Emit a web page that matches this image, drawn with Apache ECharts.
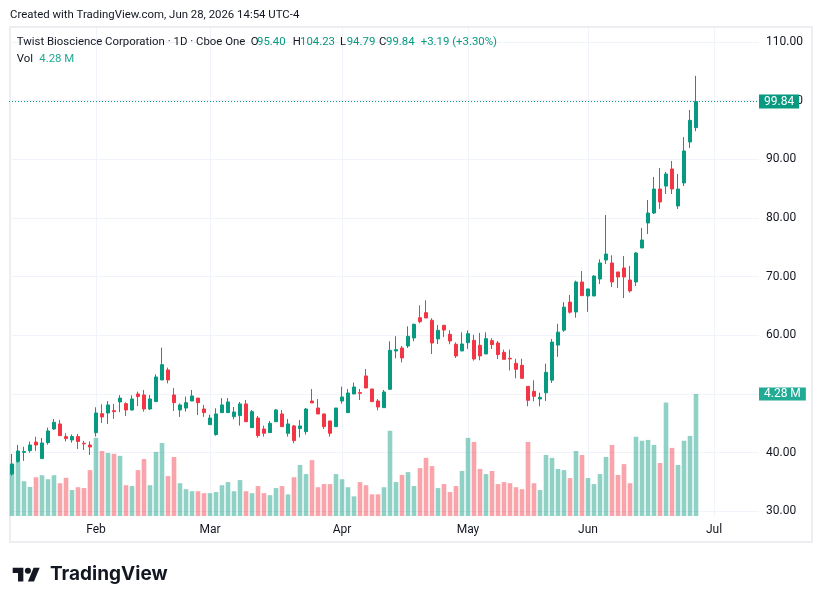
<!DOCTYPE html>
<html>
<head>
<meta charset="utf-8">
<title>Twist Bioscience Corporation · 1D</title>
<script src="https://cdn.jsdelivr.net/npm/echarts@6.0.0/dist/echarts.min.js"></script>
<style>
html, body { margin: 0; padding: 0; background: #fff; }
#container { width: 822px; height: 604px; }
</style>
</head>
<body>
<div id="container"></div>
<script>
// trading days shown on the chart (2026)
var janDays = [12,13,14,15,16,20,21,22,23,26,27,28,29,30];
var febDays = [2,3,4,5,6,9,10,11,12,13,17,18,19,20,23,24,25,26,27];
var marDays = [2,3,4,5,6,9,10,11,12,13,16,17,18,19,20,23,24,25,26,27,30,31];
var aprDays = [1,2,6,7,8,9,10,13,14,15,16,17,20,21,22,23,24,27,28,29,30];
var mayDays = [1,4,5,6,7,8,11,12,13,14,15,18,19,20,21,22,26,27,28,29];
var junDays = [1,2,3,4,5,8,9,10,11,12,15,16,17,18,22,23,24,25,26];
// empty slots on the right side of the pane
var padDates = ['2026-06-29','2026-06-30','2026-07-01','2026-07-02','2026-07-06',
                '2026-07-07','2026-07-08','2026-07-09','2026-07-10','2026-07-13'];
var monthNames = ['Jan','Feb','Mar','Apr','May','Jun','Jul','Aug','Sep','Oct','Nov','Dec'];

var open = [36.36,38.47,40.05,40.34,41.80,38.98,41.70,44.03,44.89,42.73,
42.16,42.73,41.60,41.30,43.41,46.65,46.76,47.16,48.64,48.35,
47.27,50.00,49.83,47.44,48.69,52.39,54.09,49.83,47.27,47.60,
48.80,49.30,47.44,44.77,43.07,46.82,46.82,46.14,46.31,48.30,
44.26,45.90,44.03,43.41,45.28,46.59,43.30,44.55,44.10,43.58,
48.80,47.61,46.59,45.40,44.43,48.80,46.82,50.00,50.23,53.07,
50.85,48.81,47.67,50.80,57.33,57.84,58.18,59.55,63.00,63.86,
62.56,59.38,61.70,60.17,58.47,57.33,58.75,59.15,58.30,56.82,
59.09,58.69,57.10,56.08,55.23,54.89,51.30,50.45,49.15,50.20,
52.36,58.33,60.88,65.66,63.98,69.09,66.70,66.70,69.60,72.84,
72.33,70.80,71.48,69.43,69.09,74.89,79.15,80.85,84.94,85.45,
88.35,82.05,85.97,92.95,95.40];
var close = [38.07,40.28,40.20,41.30,41.30,41.65,43.70,45.17,42.90,42.39,
42.73,41.90,41.50,40.97,46.76,46.08,48.13,46.99,49.30,47.27,
49.15,49.55,47.44,49.15,52.90,55.00,52.39,48.52,48.13,48.52,
49.66,48.52,46.82,45.90,46.59,48.13,48.64,46.93,48.30,45.28,
46.99,42.90,43.30,45.00,47.27,44.43,44.89,42.05,44.55,47.44,
48.47,46.59,44.43,43.30,47.61,49.49,50.17,51.19,50.11,51.02,
48.69,47.78,50.34,57.44,57.56,56.14,59.83,61.88,62.33,62.95,
58.69,60.85,60.90,59.03,56.48,58.52,60.28,55.97,56.48,59.43,
58.41,56.70,55.90,55.97,54.20,52.67,48.92,49.60,49.43,53.69,
58.84,60.54,64.80,63.95,69.09,66.76,67.90,70.11,72.33,73.86,
69.09,69.94,69.94,67.56,74.03,76.25,80.85,84.94,82.73,87.50,
84.94,84.94,91.42,96.65,99.84];
var low = [36.08,38.30,38.60,40.00,40.30,38.98,41.36,43.86,42.90,41.90,
41.70,40.60,40.45,39.60,42.73,45.06,44.90,45.74,46.90,46.25,
47.16,47.95,46.99,47.27,48.69,52.39,51.80,47.10,46.08,46.99,
48.80,46.42,46.10,44.77,42.90,46.82,46.82,45.68,44.60,45.28,
44.26,42.56,42.73,43.41,45.20,44.43,42.73,41.60,42.60,43.07,
48.47,46.59,44.03,42.73,44.43,48.35,46.82,50.00,48.98,51.02,
48.69,47.22,47.67,50.80,56.08,55.40,57.84,58.98,62.05,62.95,
56.82,58.52,59.70,58.47,56.14,57.33,57.67,55.68,55.74,56.82,
57.67,55.97,55.90,54.03,52.67,52.67,47.90,48.75,47.90,48.80,
51.88,56.33,60.60,63.70,63.01,66.76,64.00,66.70,68.75,72.16,
68.24,68.07,66.36,67.27,68.41,74.89,77.27,80.68,81.53,84.09,
84.09,81.53,85.45,91.93,94.79];
var high = [39.77,41.31,41.00,41.90,42.70,42.50,44.26,45.74,45.57,43.30,
43.10,43.20,42.00,41.90,47.73,48.24,48.80,48.30,49.80,48.58,
49.77,50.40,50.68,49.83,53.35,57.90,54.49,51.00,48.40,49.55,
50.68,49.30,48.13,46.48,47.56,49.30,49.30,47.78,48.64,48.98,
47.27,46.25,44.60,45.40,47.44,47.27,45.74,44.72,45.57,47.61,
50.85,49.15,46.70,45.40,47.61,51.25,50.85,51.93,50.85,54.26,
50.85,49.15,50.68,58.98,59.83,58.18,61.53,61.99,65.11,65.97,
62.90,61.76,61.80,60.85,58.80,60.51,60.85,60.11,60.40,60.51,
59.49,59.03,57.56,57.56,56.00,56.00,51.30,52.33,50.23,55.17,
59.38,61.96,65.66,66.88,69.32,70.97,67.95,70.23,72.95,80.51,
73.64,70.80,73.52,71.82,74.20,78.30,83.07,86.99,88.52,87.84,
89.72,87.50,93.80,98.41,104.23];
// volume in millions
var volume = [1.80,1.90,1.22,1.02,1.36,1.43,1.29,1.43,1.15,1.34,
0.91,1.01,0.98,1.61,2.74,2.28,2.21,2.18,2.11,1.08,
1.05,1.61,2.00,1.08,2.25,2.56,1.40,2.07,1.15,0.94,
0.87,0.87,0.80,0.80,0.84,1.08,1.19,0.87,1.26,0.87,
0.80,1.05,0.80,0.73,0.98,1.05,0.76,1.36,1.79,1.47,
1.96,1.01,1.12,1.12,1.47,1.29,1.01,0.69,1.19,1.08,
0.76,0.76,1.01,2.99,1.19,1.44,1.54,1.05,1.68,2.04,
1.75,0.98,1.12,0.84,1.05,1.58,2.74,2.60,1.65,1.47,
1.58,1.12,1.19,1.15,1.01,0.94,2.60,1.15,0.91,2.14,
2.04,1.65,1.61,1.33,2.28,2.14,1.33,1.12,1.47,2.07,
2.49,1.44,1.82,1.15,2.78,2.64,2.67,2.49,1.86,3.98,
2.39,1.79,2.64,2.81,4.28];
var priceTicks = [30, 110, 10]; // min, max, step

var upColor = '#089981';
var downColor = '#F23645';
var upVol = 'rgba(8, 153, 129, 0.45)';
var downVol = 'rgba(242, 54, 69, 0.45)';
var volLabel = '#22ab94';
var textColor = '#131722';
var gridColor = '#f0f3fa';
var font = 'Roboto, "Noto Sans", sans-serif';

function pad2(n) { return n < 10 ? '0' + n : '' + n; }
var dates = [];
[janDays, febDays, marDays, aprDays, mayDays, junDays].forEach(function (days, m) {
  days.forEach(function (d) { dates.push('2026-' + pad2(m + 1) + '-' + pad2(d)); });
});
dates = dates.concat(padDates);

// first trading day of each month gets a label + grid line
function isMonthStart(i) {
  if (i === 0) return false;
  return dates[i].substr(5, 2) !== dates[i - 1].substr(5, 2);
}

var candles = [];
var vols = [];
for (var i = 0; i < open.length; i++) {
  candles.push([open[i], close[i], low[i], high[i]]);
  vols.push({ value: volume[i], itemStyle: { color: close[i] >= open[i] ? upVol : downVol } });
}
var last = open.length - 1;
var chg = close[last] - close[last - 1];

var dom = document.getElementById('container');
var myChart = echarts.init(dom, null, { renderer: 'canvas' });

function txt(x, y, s, color) {
  return {
    type: 'text', x: x, y: y, z: 20, silent: true,
    style: {
      text: s, fill: color || textColor, font: 'normal 11.4px ' + font,
      textAlign: 'left', verticalAlign: 'middle', textVerticalAlign: 'middle'
    }
  };
}

var option = {
  animation: false,
  backgroundColor: '#fff',
  textStyle: { fontFamily: font },
  grid: [
    { left: 9, right: 63, top: 42, bottom: 92.7 },
    { left: 9, right: 63, top: 28, bottom: 88 }
  ],
  xAxis: [
    {
      type: 'category', gridIndex: 0, data: dates, boundaryGap: true,
      axisLine: { show: false }, axisTick: { show: false }, axisLabel: { show: false }, splitLine: { show: false }
    },
    {
      type: 'category', gridIndex: 1, data: dates, boundaryGap: true,
      axisLine: { show: false },
      axisTick: { show: false, alignWithLabel: true, interval: isMonthStart },
      axisLabel: {
        interval: isMonthStart, color: textColor, fontSize: 12, margin: 8, fontFamily: font,
        formatter: function (v) { return monthNames[parseInt(v.substr(5, 2), 10) - 1]; }
      },
      splitLine: { show: true, interval: isMonthStart, alignWithLabel: true, lineStyle: { color: gridColor, width: 1 } }
    }
  ],
  yAxis: [
    {
      type: 'value', gridIndex: 0, position: 'right',
      min: priceTicks[0], max: priceTicks[1], interval: priceTicks[2],
      axisLine: { show: false }, axisTick: { show: false },
      axisLabel: { color: textColor, fontSize: 12, margin: 7, fontFamily: font,
        formatter: function (v) { return v.toFixed(2); } },
      splitLine: { lineStyle: { color: gridColor, width: 1 } }
    },
    { type: 'value', gridIndex: 1, min: 0, max: 17.12, show: false }
  ],
  series: [
    {
      name: 'Vol', type: 'bar', xAxisIndex: 1, yAxisIndex: 1,
      data: vols, barWidth: '77%', z: 1, silent: true,
      markLine: {
        silent: true, symbol: ['none', 'none'],
        lineStyle: { color: 'rgba(0,0,0,0)', width: 0 },
        data: [{ yAxis: volume[last] }],
        label: {
          show: true, position: 'end', distance: 0,
          formatter: volume[last].toFixed(2) + ' M',
          backgroundColor: volLabel, color: '#fff', fontSize: 12, fontFamily: font,
          padding: [1, 5, 0, 5], lineHeight: 12, opacity: 1
        }
      }
    },
    {
      name: 'TWST', type: 'candlestick', xAxisIndex: 0, yAxisIndex: 0,
      data: candles, barWidth: 3.4, z: 3, silent: true,
      itemStyle: { color: upColor, color0: downColor, borderColor: upColor, borderColor0: downColor, borderWidth: 1 },
      markLine: {
        silent: true, symbol: ['none', 'none'],
        lineStyle: { color: upColor, width: 1, type: [1, 2] },
        data: [{ yAxis: close[last] }],
        label: {
          show: true, position: 'end', distance: 0,
          formatter: close[last].toFixed(2),
          backgroundColor: upColor, color: '#fff', fontSize: 12, fontFamily: font,
          padding: [1, 5, 0, 5], lineHeight: 13
        }
      }
    }
  ],
  graphic: [
    { type: 'rect', silent: true, z: -1, shape: { x: 10, y: 27, width: 802, height: 515 },
      style: { fill: 'none', stroke: '#eceef2', lineWidth: 2 } },
    txt(10, 15, 'Created with TradingView.com, Jun 28, 2026 14:54 UTC-4'),
    txt(16.7, 42.5, 'Twist Bioscience Corporation · 1D · Cboe One'),
    txt(250.7, 42.5, 'O'), txt(257, 42.5, open[last].toFixed(2), upColor),
    txt(292.7, 42.5, 'H'), txt(300, 42.5, high[last].toFixed(2), upColor),
    txt(340, 42.5, 'L'), txt(346.7, 42.5, low[last].toFixed(2), upColor),
    txt(379, 42.5, 'C'), txt(386, 42.5, close[last].toFixed(2), upColor),
    txt(420.7, 42.5, '+' + chg.toFixed(2) + ' (+' + (chg / close[last - 1] * 100).toFixed(2) + '%)', upColor),
    txt(16.7, 59, 'Vol'), txt(39.3, 59, volume[last].toFixed(2) + ' M', volLabel),
    {
      type: 'group', x: 12.7, y: 564.7, scaleX: 0.76, scaleY: 0.76, silent: true,
      children: [
        { type: 'polygon', shape: { points: [[14, 22], [7, 22], [7, 11], [0, 11], [0, 4], [14, 4]] }, style: { fill: textColor } },
        { type: 'polygon', shape: { points: [[28, 22], [20, 22], [27.5, 4], [35.5, 4]] }, style: { fill: textColor } },
        { type: 'circle', shape: { cx: 20, cy: 8, r: 4 }, style: { fill: textColor } }
      ]
    },
    { type: 'text', x: 50, y: 574, silent: true,
      style: { text: 'TradingView', fill: textColor, font: 'bold 19px Inter, Roboto, sans-serif',
        verticalAlign: 'middle', textVerticalAlign: 'middle' } }
  ]
};

if (option && typeof option === 'object') {
  myChart.setOption(option, true);
}
</script>
</body>
</html>
